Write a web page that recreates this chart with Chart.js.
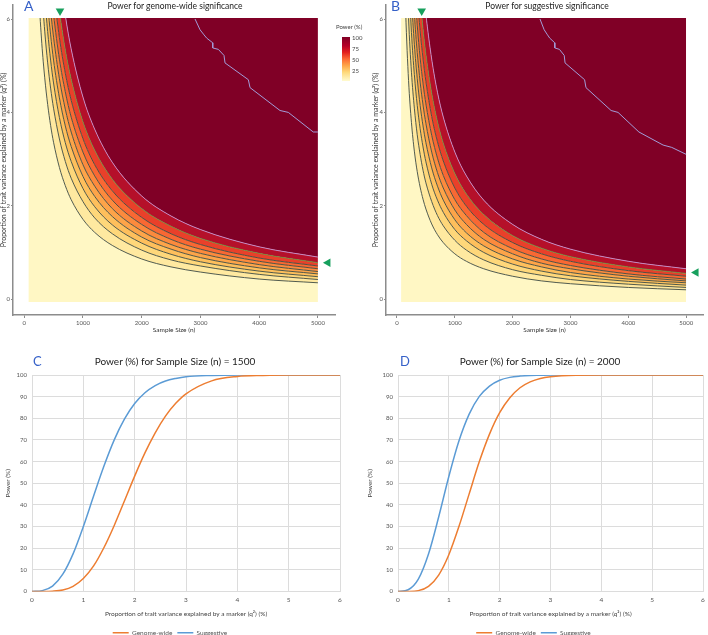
<!DOCTYPE html>
<html>
<head>
<meta charset="utf-8">
<script src="https://cdn.jsdelivr.net/npm/chart.js@4.4.1/dist/chart.umd.min.js"></script>
<style>
  body { margin: 0; width: 708px; height: 635px; overflow: hidden; background: #fff; font-family: Lato, "Open Sans", sans-serif; position: relative; }
  .box { position: absolute; }
  .letter { position: absolute; color: #3560c8; line-height: 1; }
  .title { position: absolute; color: #222; white-space: nowrap; transform: translateX(-50%); line-height: 1; }
  .cb { position: absolute; font-size: 6px; color: #444; line-height: 1; white-space: nowrap; }
</style>
</head>
<body>
<div class="box" style="left:0;top:0;width:350px;height:336px"><canvas id="heatA" width="350" height="336"></canvas></div>
<div class="box" style="left:372px;top:0;width:336px;height:336px"><canvas id="heatB" width="336" height="336"></canvas></div>
<div class="box" style="left:0;top:340px;width:352px;height:306px"><canvas id="lineC" width="352" height="306"></canvas></div>
<div class="box" style="left:362px;top:340px;width:346px;height:306px"><canvas id="lineD" width="346" height="306"></canvas></div>

<div class="letter" style="left:24px;top:-1px;font-size:14px">A</div>
<div class="title" style="left:175px;top:2px;font-size:8.5px">Power for genome-wide significance</div>
<div class="letter" style="left:391px;top:-1px;font-size:14px">B</div>
<div class="title" style="left:547px;top:2px;font-size:8.5px">Power for suggestive significance</div>
<div class="letter" style="left:33px;top:355px;font-size:13px">C</div>
<div class="title" style="left:175px;top:356px;font-size:10px">Power (%) for Sample Size (n) = 1500</div>
<div class="letter" style="left:400px;top:355px;font-size:13px">D</div>
<div class="title" style="left:540px;top:356px;font-size:10px">Power (%) for Sample Size (n) = 2000</div>

<!-- colour key of panel A -->
<div class="cb" style="left:336px;top:24px">Power (%)</div>
<div class="box" style="left:342px;top:37px;width:8px;height:44px;background:linear-gradient(to bottom,#800026 0%,#b50027 20%,#e3211e 35%,#fc6a33 50%,#fea648 65%,#fed97a 80%,#fffbd0 100%)"></div>
<div class="cb" style="left:352px;top:35px">100</div>
<div class="cb" style="left:352px;top:46px">75</div>
<div class="cb" style="left:352px;top:57px">50</div>
<div class="cb" style="left:352px;top:68px">25</div>

<script>
// sample sizes (n) where the power contours were read
const sampleSizes = [70, 120, 150, 200, 250, 300, 350, 400, 450, 500, 600, 700, 800, 1000, 1200, 1500, 2000, 2500, 3000, 4000, 5000];
const nTicks = [0, 1000, 2000, 3000, 4000, 5000];
const qTicks = [0, 2, 4, 6];
const heatExtentN = [70, 5000];
const heatExtentQ = [-0.06, 6.02];

// q² (%) on each power contour, genome-wide threshold (10% ... 90%)
const gw10 = [19.91, 12.66, 10.39, 8.00, 6.51, 5.48, 4.74, 4.17, 3.72, 3.36, 2.82, 2.43, 2.13, 1.71, 1.43, 1.15, 0.86, 0.69, 0.58, 0.43, 0.35];
const gw20 = [23.33, 15.07, 12.43, 9.62, 7.85, 6.63, 5.74, 5.06, 4.52, 4.09, 3.43, 2.95, 2.59, 2.09, 1.74, 1.40, 1.05, 0.84, 0.71, 0.53, 0.42];
const gw30 = [25.77, 16.84, 13.94, 10.83, 8.86, 7.49, 6.49, 5.73, 5.12, 4.63, 3.89, 3.35, 2.95, 2.37, 1.98, 1.59, 1.20, 0.96, 0.80, 0.60, 0.48];
const gw40 = [27.84, 18.37, 15.25, 11.89, 9.75, 8.26, 7.16, 6.32, 5.66, 5.12, 4.31, 3.71, 3.27, 2.63, 2.20, 1.77, 1.33, 1.07, 0.89, 0.67, 0.54];
const gw50 = [29.79, 19.84, 16.53, 12.93, 10.62, 9.01, 7.82, 6.91, 6.19, 5.61, 4.72, 4.07, 3.58, 2.88, 2.42, 1.94, 1.46, 1.17, 0.98, 0.74, 0.59];
const gw60 = [31.71, 21.31, 17.81, 13.98, 11.50, 9.77, 8.50, 7.51, 6.74, 6.10, 5.14, 4.44, 3.90, 3.15, 2.64, 2.12, 1.60, 1.28, 1.07, 0.81, 0.65];
const gw70 = [33.71, 22.88, 19.18, 15.11, 12.46, 10.61, 9.23, 8.17, 7.33, 6.65, 5.60, 4.84, 4.26, 3.44, 2.88, 2.32, 1.75, 1.40, 1.17, 0.88, 0.71];
const gw80 = [36.07, 24.77, 20.84, 16.49, 13.64, 11.63, 10.14, 8.99, 8.07, 7.32, 6.18, 5.34, 4.71, 3.80, 3.19, 2.57, 1.94, 1.56, 1.30, 0.98, 0.78];
const gw90 = [39.29, 27.40, 23.19, 18.47, 15.34, 13.12, 11.46, 10.17, 9.15, 8.31, 7.02, 6.08, 5.36, 4.33, 3.64, 2.93, 2.21, 1.78, 1.49, 1.12, 0.90];

// same for the suggestive threshold
const sg10 = [12.31, 7.57, 6.15, 4.68, 3.78, 3.17, 2.73, 2.40, 2.14, 1.93, 1.61, 1.38, 1.21, 0.97, 0.81, 0.65, 0.49, 0.39, 0.33, 0.25, 0.20];
const sg20 = [15.44, 9.62, 7.85, 6.01, 4.86, 4.09, 3.52, 3.10, 2.76, 2.49, 2.09, 1.79, 1.57, 1.26, 1.05, 0.84, 0.63, 0.51, 0.42, 0.32, 0.25];
const sg30 = [17.79, 11.21, 9.17, 7.04, 5.71, 4.81, 4.15, 3.65, 3.26, 2.94, 2.46, 2.12, 1.86, 1.49, 1.25, 1.00, 0.75, 0.60, 0.50, 0.38, 0.30];
const sg40 = [19.85, 12.63, 10.36, 7.98, 6.49, 5.46, 4.72, 4.15, 3.71, 3.35, 2.81, 2.42, 2.12, 1.70, 1.42, 1.14, 0.86, 0.69, 0.57, 0.43, 0.35];
const sg50 = [21.80, 13.98, 11.51, 8.89, 7.24, 6.11, 5.28, 4.65, 4.16, 3.76, 3.15, 2.71, 2.38, 1.91, 1.60, 1.28, 0.97, 0.77, 0.65, 0.49, 0.39];
const sg60 = [23.75, 15.38, 12.69, 9.83, 8.02, 6.78, 5.87, 5.17, 4.62, 4.18, 3.51, 3.02, 2.65, 2.13, 1.79, 1.43, 1.08, 0.86, 0.72, 0.54, 0.43];
const sg70 = [25.86, 16.91, 14.00, 10.88, 8.90, 7.53, 6.52, 5.75, 5.15, 4.66, 3.91, 3.37, 2.96, 2.38, 1.99, 1.60, 1.21, 0.97, 0.81, 0.61, 0.49];
const sg80 = [28.32, 18.73, 15.57, 12.15, 9.96, 8.44, 7.32, 6.47, 5.79, 5.24, 4.41, 3.80, 3.34, 2.69, 2.25, 1.81, 1.36, 1.09, 0.91, 0.69, 0.55];
const sg90 = [31.69, 21.30, 17.80, 13.97, 11.50, 9.77, 8.49, 7.51, 6.73, 6.10, 5.14, 4.43, 3.90, 3.15, 2.64, 2.12, 1.60, 1.28, 1.07, 0.81, 0.65];

// the stepped 100% line in the top right corner
const gwStairN = [2908, 2993, 3061, 3107, 3209, 3209, 3304, 3401, 3418, 3815, 3844, 4354, 4495, 4920, 5000];
const gwStairQ = [6.00, 5.77, 5.66, 5.59, 5.49, 5.38, 5.35, 5.22, 5.06, 4.70, 4.53, 4.04, 4.00, 3.58, 3.58];
const sgStairN = [2472, 2544, 2602, 2641, 2728, 2728, 2808, 2891, 2905, 3243, 3267, 3701, 3821, 4182, 4600, 4750, 5000];
const sgStairQ = [6.00, 5.77, 5.66, 5.59, 5.49, 5.38, 5.35, 5.22, 5.06, 4.70, 4.53, 4.04, 4.00, 3.58, 3.30, 3.25, 3.10];

// green arrows: n for 80% power at q²=6, q² for 80% power at n=5000
const gwArrow = [610, 0.78];
const sgArrow = [427, 0.57];

// power curves for fixed n
const varianceSteps = [0, 0.2, 0.4, 0.6, 0.8, 1.0, 1.2, 1.4, 1.6, 1.8, 2.0, 2.2, 2.4, 2.6, 2.8, 3.0, 3.5, 4.0, 4.5, 5.0, 5.5, 6.0];
const gw1500 = [0, 0.01, 0.14, 0.7, 2.4, 6.0, 11.8, 20.2, 30.4, 41.8, 53.3, 64.0, 73.3, 81.0, 86.9, 91.3, 97.3, 99.3, 99.8, 100, 100, 100];
const sg1500 = [0, 0.4, 2.5, 8.0, 17.4, 30.0, 44.1, 57.8, 69.9, 79.6, 86.8, 91.8, 95.1, 97.2, 98.4, 99.2, 99.8, 100, 100, 100, 100, 100];
const gw2000 = [0, 0.03, 0.4, 2.4, 7.6, 17.0, 30.1, 45.1, 60.0, 72.7, 82.6, 89.5, 94.1, 96.8, 98.4, 99.2, 99.9, 100, 100, 100, 100, 100];
const sg2000 = [0, 0.8, 5.7, 17.3, 34.4, 53.1, 69.6, 81.9, 90.1, 94.9, 97.6, 98.9, 99.5, 99.8, 99.9, 100, 100, 100, 100, 100, 100, 100];

const bandColors = ['#fff7c4', '#ffe9a0', '#fed77a', '#febf5c', '#fda449', '#fc8a3d', '#f96833', '#e9402a', '#b5102a', '#800026'];
const contourColors = ['#3d4a40', '#3d4a40', '#3d4a40', '#3d4a40', '#3d4a40', '#3d4a40', '#3d4a40', '#6b8f3c', '#c592cf'];
const arrowGreen = '#17a05d';
const axisGrey = '#8c8c8c';

Chart.defaults.font.family = 'Lato, "Open Sans", sans-serif';
Chart.defaults.animation = false;

// keep the heat map inside its own rectangle, arrows stay outside
const heatClip = {
    id: 'heatClip',
    beforeDatasetsDraw(chart) {
        const { x, y } = chart.scales;
        const l = x.getPixelForValue(heatExtentN[0]), r = x.getPixelForValue(heatExtentN[1]);
        const t = y.getPixelForValue(heatExtentQ[1]), b = y.getPixelForValue(heatExtentQ[0]);
        chart.ctx.save();
        chart.ctx.beginPath();
        chart.ctx.rect(l, t, r - l, b - t);
        chart.ctx.clip();
        chart.$clipped = true;
    },
    beforeDatasetDraw(chart, args) {
        if (chart.$clipped && chart.data.datasets[args.index].marker) {
            chart.ctx.restore();
            chart.$clipped = false;
        }
    },
    afterDatasetsDraw(chart) {
        if (chart.$clipped) {
            chart.ctx.restore();
            chart.$clipped = false;
        }
    }
};

// fixed axis boxes, no extra room for overhanging labels
const fixHeight = h => s => { s.height = h; s.paddingLeft = 0; s.paddingRight = 0; };
const fixWidth = w => s => { s.width = w; s.paddingTop = 0; s.paddingBottom = 0; };

function heatmapChart(id, contours, stairN, stairQ, arrow, axisWidth, padRight) {
    const toPoints = vals => sampleSizes.map((n, i) => ({ x: n, y: vals[i] }));
    const flat = v => sampleSizes.map(n => ({ x: n, y: v }));
    const hidden = { borderColor: 'transparent', borderWidth: 0, pointRadius: 0 };

    const datasets = [
        { marker: true, data: [{ x: arrow[0], y: 6.17 }], showLine: false, pointStyle: 'triangle', rotation: 180, pointRadius: 5, backgroundColor: arrowGreen, borderWidth: 0, clip: false },
        { marker: true, data: [{ x: 5170, y: arrow[1] }], showLine: false, pointStyle: 'triangle', rotation: 270, pointRadius: 5, backgroundColor: arrowGreen, borderWidth: 0, clip: false },
        { data: stairN.map((n, i) => ({ x: n, y: stairQ[i] })), borderColor: '#a29cd8', borderWidth: 1, pointRadius: 0, fill: false },
        { data: flat(heatExtentQ[0]), fill: false, ...hidden }
    ];
    contours.forEach((c, i) => {
        datasets.push({
            data: toPoints(c), borderColor: contourColors[i], borderWidth: 0.9, pointRadius: 0,
            fill: '-1', backgroundColor: bandColors[i], cubicInterpolationMode: 'monotone'
        });
    });
    datasets.push({ data: flat(heatExtentQ[1]), fill: '-1', backgroundColor: bandColors[9], ...hidden });

    new Chart(id, {
        type: 'line',
        data: { datasets },
        options: {
            responsive: false,
            layout: { padding: { top: 2, right: padRight, left: 0, bottom: 0 } },
            plugins: { legend: { display: false }, tooltip: { enabled: false } },
            scales: {
                x: {
                    type: 'linear', min: -190, max: 5290,
                    afterBuildTicks: s => { s.ticks = nTicks.map(v => ({ value: v })); },
                    afterFit: fixHeight(21),
                    grid: { drawOnChartArea: false, tickLength: 3, color: axisGrey },
                    border: { color: axisGrey, width: 1.5 },
                    ticks: { font: { size: 6 }, color: '#555', padding: 1, maxRotation: 0, autoSkip: false, callback: v => String(v) },
                    title: { display: true, text: 'Sample Size (n)', font: { size: 6.5 }, color: '#333', padding: { top: 1, bottom: 2 } }
                },
                y: {
                    type: 'linear', min: -0.34, max: 6.3,
                    afterBuildTicks: s => { s.ticks = qTicks.map(v => ({ value: v })); },
                    afterFit: fixWidth(axisWidth),
                    grid: { drawOnChartArea: false, tickLength: 2, color: axisGrey },
                    border: { color: axisGrey, width: 1.5 },
                    ticks: { font: { size: 6 }, color: '#555', padding: 1, callback: v => String(v) },
                    title: { display: true, text: 'Proportion of trait variance explained by a marker (q²) (%)', font: { size: 7 }, color: '#333', padding: { top: 0, bottom: 0 } }
                }
            }
        },
        plugins: [heatClip]
    });
}

function powerChart(id, gw, sg, axisWidth, padRight) {
    const toPoints = vals => varianceSteps.map((q, i) => ({ x: q, y: vals[i] }));
    new Chart(id, {
        type: 'line',
        data: {
            datasets: [
                { label: 'Genome-wide', data: toPoints(gw), borderColor: '#ed7d31', backgroundColor: '#ed7d31', borderWidth: 1.5, pointRadius: 0, cubicInterpolationMode: 'monotone' },
                { label: 'Suggestive', data: toPoints(sg), borderColor: '#5b9bd5', backgroundColor: '#5b9bd5', borderWidth: 1.5, pointRadius: 0, cubicInterpolationMode: 'monotone' },
                { label: 'arrow', data: [{ x: -0.36, y: 80 }], showLine: false, pointStyle: 'triangle', rotation: 90, pointRadius: 5, backgroundColor: arrowGreen, borderWidth: 0, clip: false }
            ]
        },
        options: {
            responsive: false,
            layout: { padding: { top: 35, right: padRight, left: 0, bottom: 0 } },
            plugins: {
                tooltip: { enabled: false },
                legend: {
                    position: 'bottom',
                    labels: {
                        filter: item => item.text !== 'arrow',
                        usePointStyle: true, pointStyle: 'line', pointStyleWidth: 16,
                        font: { size: 6.5 }, color: '#555', padding: 5
                    }
                }
            },
            scales: {
                x: {
                    type: 'linear', min: 0, max: 6,
                    afterFit: fixHeight(33),
                    grid: { color: '#dcdcdc', drawTicks: false },
                    border: { display: false },
                    ticks: { stepSize: 1, font: { size: 6.5 }, color: '#555', padding: 5 },
                    title: { display: true, text: 'Proportion of trait variance explained by a marker (q²) (%)', font: { size: 6.5 }, color: '#444', padding: { top: 2, bottom: 7 } }
                },
                y: {
                    min: 0, max: 100,
                    afterFit: fixWidth(axisWidth),
                    grid: { color: '#dcdcdc', drawTicks: false },
                    border: { display: false },
                    ticks: { stepSize: 10, font: { size: 6 }, color: '#555', padding: 5 },
                    title: { display: true, text: 'Power (%)', font: { size: 6.5 }, color: '#444', padding: { top: 4, bottom: 0 } }
                }
            }
        }
    });
}

heatmapChart('heatA', [gw10, gw20, gw30, gw40, gw50, gw60, gw70, gw80, gw90], gwStairN, gwStairQ, gwArrow, 13, 15);
heatmapChart('heatB', [sg10, sg20, sg30, sg40, sg50, sg60, sg70, sg80, sg90], sgStairN, sgStairQ, sgArrow, 14, 0);
powerChart('lineC', gw1500, sg1500, 32, 12);
powerChart('lineD', gw2000, sg2000, 36, 3);
</script>
</body>
</html>
